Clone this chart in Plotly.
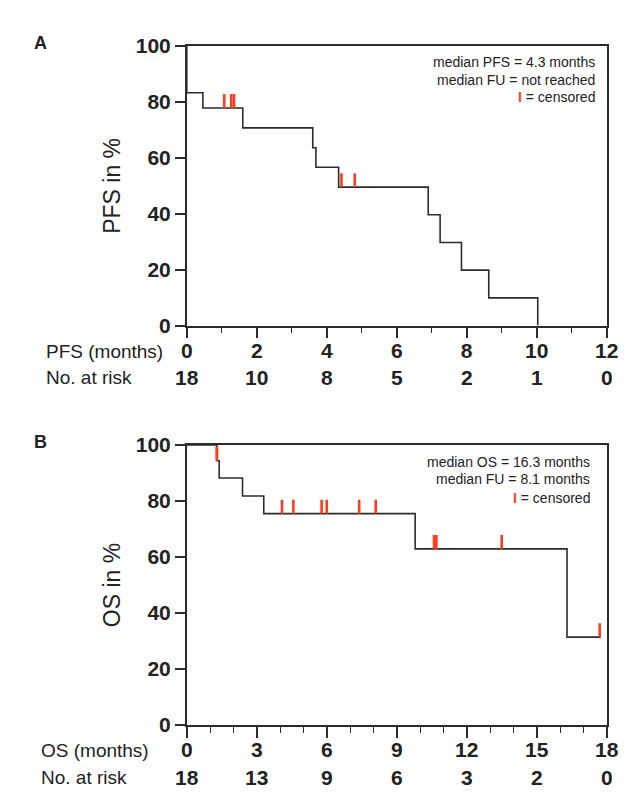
import plotly.graph_objects as go

# PFS (panel A) - Kaplan-Meier steps
pfs_time = [0, 0.0, 0.46, 1.6, 3.6, 3.69, 4.34, 6.9, 7.24, 7.85, 8.63, 10.03]
pfs_surv = [100, 83.3, 77.8, 70.7, 63.6, 56.6, 49.5, 39.6, 29.7, 19.8, 9.9, 0]
pfs_censor = [1.07, 1.27, 1.35, 4.42, 4.8]
pfs_ticks = [0, 2, 4, 6, 8, 10, 12]
pfs_risk = [18, 10, 8, 5, 2, 1, 0]

# OS (panel B)
os_time = [0, 1.29, 1.39, 2.39, 3.3, 9.79, 16.3, 17.74]
os_surv = [100, 94.4, 88.2, 81.8, 75.5, 62.9, 31.4, 31.4]
os_censor = [1.29, 1.29, 4.08, 4.57, 5.78, 6.0, 7.39, 8.1, 10.6, 10.7, 13.5, 17.7]
os_ticks = [0, 3, 6, 9, 12, 15, 18]
os_risk = [18, 13, 9, 6, 3, 2, 0]

W, H = 642, 808
FONT = "Liberation Sans, Arial, sans-serif"
RED = "#ff3b1f"
LINE = "#2b2b2b"
TICK_H = 5  # height of a censor mark in %


def level_at(times, surv, t):
    # survival value of the step curve at time t
    v = surv[0]
    for ti, si in zip(times, surv):
        if ti <= t:
            v = si
    return v


def censor_xy(times, surv, cens):
    xs, ys = [], []
    for c in cens:
        lv = level_at(times, surv, c)
        xs += [c, c, None]
        ys += [lv, lv + TICK_H, None]
    return xs, ys


def px(x):
    return x / W


def py(y):
    return 1 - y / H


fig = go.Figure()

fig.add_trace(go.Scatter(x=pfs_time, y=pfs_surv, mode="lines", line_shape="hv",
                         line=dict(color=LINE, width=1.6), xaxis="x", yaxis="y",
                         showlegend=False))
cx, cy = censor_xy(pfs_time, pfs_surv, pfs_censor)
fig.add_trace(go.Scatter(x=cx, y=cy, mode="lines", line=dict(color=RED, width=2.6),
                         xaxis="x", yaxis="y", showlegend=False))

fig.add_trace(go.Scatter(x=os_time, y=os_surv, mode="lines", line_shape="hv",
                         line=dict(color=LINE, width=1.6), xaxis="x2", yaxis="y2",
                         showlegend=False))
cx, cy = censor_xy(os_time, os_surv, os_censor)
fig.add_trace(go.Scatter(x=cx, y=cy, mode="lines", line=dict(color=RED, width=2.6),
                         xaxis="x2", yaxis="y2", showlegend=False))

common_x = dict(showline=True, linecolor=LINE, linewidth=1.6, mirror=True,
                ticks="outside", ticklen=11, tickwidth=1.6, tickcolor=LINE,
                tickfont=dict(family=FONT, size=21, color="#222", weight="bold"),
                ticklabelstandoff=-6,
                showgrid=False, zeroline=False, fixedrange=True,
                minor=dict(dtick=1, ticks="outside", ticklen=6, tickwidth=1.4,
                           tickcolor=LINE, showgrid=False))
common_y = dict(showline=True, linecolor=LINE, linewidth=1.6, mirror=True,
                ticks="outside", ticklen=10, tickwidth=1.6, tickcolor=LINE,
                tickfont=dict(family=FONT, size=21, color="#222", weight="bold"),
                showgrid=False, zeroline=False, range=[0, 100],
                tickvals=[0, 20, 40, 60, 80, 100], fixedrange=True)

xdom = [px(186), px(618)]
fig.update_layout(
    width=W, height=H,
    margin=dict(l=0, r=0, t=0, b=0),
    paper_bgcolor="white", plot_bgcolor="white",
    xaxis=dict(domain=xdom, range=[0, 12], tickvals=pfs_ticks, anchor="y", **common_x),
    yaxis=dict(domain=[py(322.7), py(35)], anchor="x", **common_y),
    xaxis2=dict(domain=xdom, range=[0, 18], tickvals=os_ticks, anchor="y2", **common_x),
    yaxis2=dict(domain=[py(734), py(445.7)], anchor="x2", **common_y),
)

ann = []


def text(x, y, s, size, xanchor="center", bold=False, angle=0, color="#222"):
    ann.append(dict(x=px(x), y=py(y), xref="paper", yref="paper", text=s,
                    showarrow=False, xanchor=xanchor, yanchor="middle",
                    textangle=angle,
                    font=dict(family=FONT, size=size, color=color,
                              weight="bold" if bold else "normal")))


# panel letters
text(35, 32, "A", 18, bold=True)
text(35, 443, "B", 18, bold=True)

# y-axis titles
text(109, 179, "PFS in %", 23, angle=-90)
text(109, 590, "OS in %", 23, angle=-90)

# row labels
text(39, 349, "PFS (months)", 19, xanchor="left")
text(39, 376, "No. at risk", 19, xanchor="left")
text(34, 760, "OS (months)", 19, xanchor="left")
text(34, 788, "No. at risk", 19, xanchor="left")

# numbers at risk
for t, n in zip(pfs_ticks, pfs_risk):
    ann.append(dict(x=t, y=py(376), xref="x", yref="paper", text=str(n), showarrow=False,
                    xanchor="center", yanchor="middle",
                    font=dict(family=FONT, size=21, color="#222", weight="bold")))
for t, n in zip(os_ticks, os_risk):
    ann.append(dict(x=t, y=py(788), xref="x2", yref="paper", text=str(n), showarrow=False,
                    xanchor="center", yanchor="middle",
                    font=dict(family=FONT, size=21, color="#222", weight="bold")))

# in-plot notes
red_i = "<span style='color:%s'><b>I</b></span> = censored" % RED
text(608, 51, "median PFS = 4.3 months", 14, xanchor="right")
text(608, 70, "median FU = not reached", 14, xanchor="right")
text(608, 88, red_i, 14, xanchor="right")
text(603, 463, "median OS = 16.3 months", 14, xanchor="right")
text(603, 481, "median FU = 8.1 months", 14, xanchor="right")
text(603, 500, red_i, 14, xanchor="right")

fig.update_layout(annotations=ann)

# the page's default body margin would push the 642x808 figure off the window
fig.write_html("out.html", config={"displayModeBar": False},
               post_script="document.body.style.margin='0';document.body.style.overflow='hidden';")
